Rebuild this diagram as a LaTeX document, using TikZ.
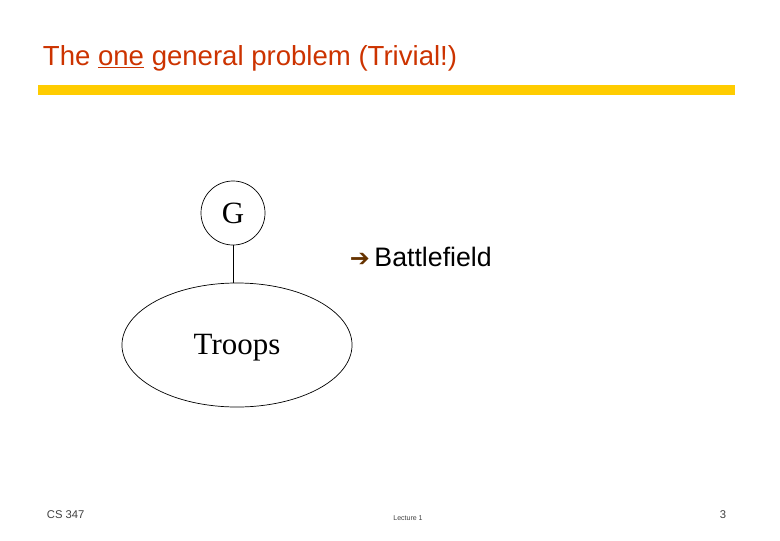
\documentclass[tikz,border=0pt]{standalone}
\usepackage{fontspec}
\setmainfont{Liberation Serif}
\setsansfont{Liberation Sans}
\newfontfamily\symfont{DejaVu Sans}
\usetikzlibrary{positioning, shapes.geometric}
\definecolor{titlered}{HTML}{CC3300}
\definecolor{baryellow}{HTML}{FFCC00}
\definecolor{arrowbrown}{HTML}{663300}

\begin{document}
\begin{tikzpicture}[x=0.025cm, y=-0.025cm,
    foot/.style={font=\sffamily\fontsize{8}{9}\selectfont, text=black!75},
    circ/.style={draw, circle, line width=0.5pt, minimum size=1.6cm, inner sep=0pt, font=\fontsize{22}{24}\selectfont},
    oval/.style={draw, ellipse, line width=0.5pt, minimum width=5.75cm, minimum height=3.1cm, font=\fontsize{22}{24}\selectfont}
]
\useasboundingbox (0,0) rectangle (780,540);

% === TITLE ===
\node[anchor=west, text=titlered, font=\sffamily\fontsize{19.6}{22}\selectfont] (title) at (38,58) {The \underline{one} general problem (Trivial!)};
\fill[baryellow] (38,85) rectangle (735,95);

% === DIAGRAM ===
\node[circ] (g) at (233,213) {G};
\node[oval] (troops) at (237,345) {};
\node[font=\fontsize{22}{24}\selectfont] (troopstext) at (237,348) {Troops};
\draw[line width=0.5pt] (g.south) -- (troops.north -| g.south);

\node[anchor=west, font=\sffamily\fontsize{19}{22}\selectfont] (field) at (345,257) {{\symfont\color{arrowbrown}\fontsize{17}{20}\selectfont\char"2794}\,Battlefield};

% === FOOTER ===
\node[foot, anchor=west] (course) at (42,515) {CS 347};
\node[foot, font=\sffamily\fontsize{5}{6}\selectfont] (lecture) at (408,518) {Lecture 1};
\node[foot, anchor=east] (page) at (731,515) {3};
\end{tikzpicture}
\end{document}
